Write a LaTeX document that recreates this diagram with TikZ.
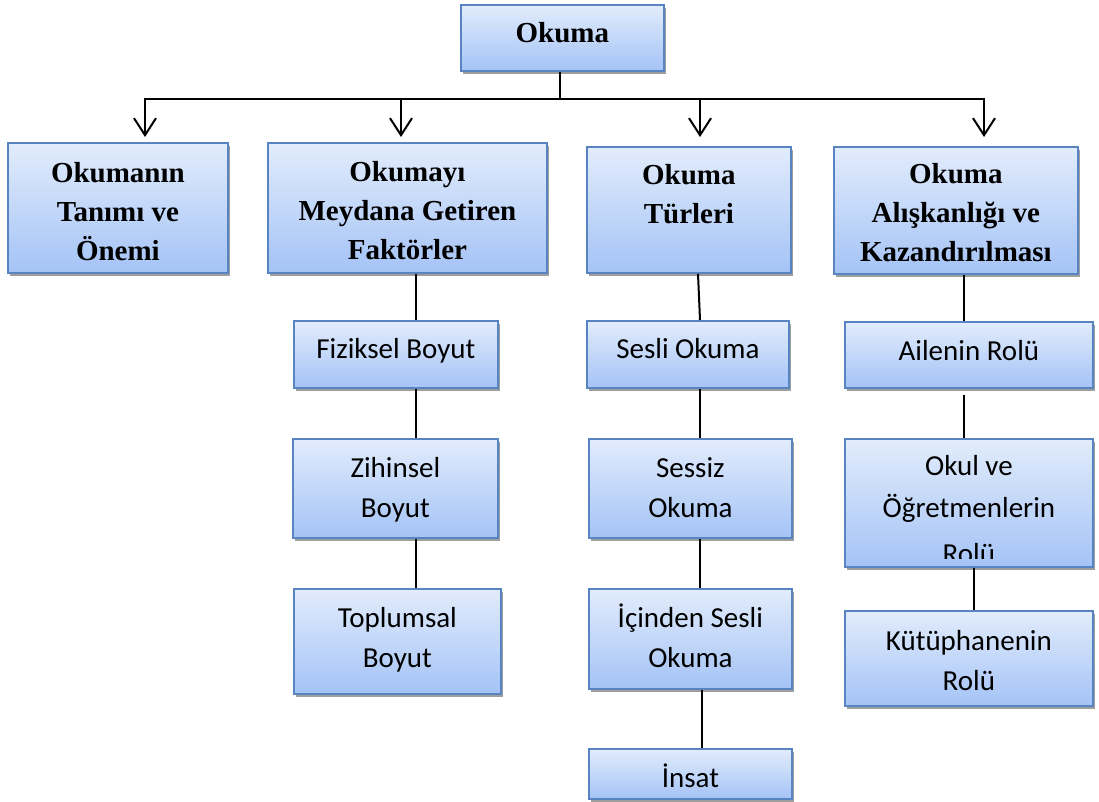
\documentclass[tikz,border=0pt]{standalone}
\usepackage{fontspec}
\setmainfont{Liberation Serif}
\newfontfamily\calibri{Carlito}
\usetikzlibrary{arrows.meta,shadows}
\definecolor{boxtop}{HTML}{E2ECFC}
\definecolor{boxbot}{HTML}{A4C3F6}
\definecolor{boxborder}{HTML}{5884C2}
\definecolor{shadowgray}{HTML}{9E9E9E}
\tikzset{
  box/.style={draw=boxborder, line width=1.8pt, top color=boxtop, bottom color=boxbot,
    inner sep=0pt, anchor=north west,
    drop shadow={shadow xshift=2.5pt, shadow yshift=-3.5pt, fill=shadowgray, opacity=1}},
  htxt/.style={font=\fontsize{29}{39}\selectfont\bfseries, anchor=base, inner sep=0pt},
  ctxt/.style={font=\fontsize{29}{40}\selectfont\calibri, anchor=base, inner sep=0pt},
  conn/.style={line width=2pt},
  arr/.style={line width=2pt, -{Straight Barb[length=17pt,width=22pt]}},
}
\begin{document}
\begin{tikzpicture}[x=1pt,y=-1pt]
\useasboundingbox (0,0) rectangle (1099,801);
% header boxes
\node[box, minimum width=203pt, minimum height=66pt] (okuma) at (460,4) {};
\node[htxt] (okuma-t) at ([yshift=-38pt]okuma.north) {Okuma};
\node[box, minimum width=220pt, minimum height=130pt] (h1) at (7,142) {};
\node[htxt] (h1-t) at ([yshift=-40pt]h1.north) {\begin{tabular}[t]{@{}c@{}}Okumanın\\Tanımı ve\\Önemi\end{tabular}};
\node[box, minimum width=279pt, minimum height=130pt] (h2) at (267,142) {};
\node[htxt] (h2-t) at ([yshift=-39pt]h2.north) {\begin{tabular}[t]{@{}c@{}}Okumayı\\Meydana Getiren\\Faktörler\end{tabular}};
\node[box, minimum width=204pt, minimum height=126pt] (h3) at (586,146) {};
\node[htxt] (h3-t) at ([yshift=-38pt]h3.north) {\begin{tabular}[t]{@{}c@{}}Okuma\\Türleri\end{tabular}};
\node[box, minimum width=244pt, minimum height=127pt] (h4) at (833,146) {};
\node[htxt] (h4-t) at ([yshift=-37pt]h4.north) {\begin{tabular}[t]{@{}c@{}}Okuma\\Alışkanlığı ve\\Kazandırılması\end{tabular}};
% column 2
\node[box, minimum width=204pt, minimum height=67pt] (c21) at (293,320) {};
\node[ctxt] (c21-t) at ([yshift=-38pt]c21.north) {Fiziksel Boyut};
\node[box, minimum width=205pt, minimum height=99pt] (c22) at (292,438) {};
\node[ctxt] (c22-t) at ([yshift=-39pt]c22.north) {\begin{tabular}[t]{@{}c@{}}Zihinsel\\Boyut\end{tabular}};
\node[box, minimum width=207pt, minimum height=105pt] (c23) at (293,588) {};
\node[ctxt] (c23-t) at ([yshift=-39pt]c23.north) {\begin{tabular}[t]{@{}c@{}}Toplumsal\\Boyut\end{tabular}};
% column 3
\node[box, minimum width=202pt, minimum height=67pt] (c31) at (586,320) {};
\node[ctxt] (c31-t) at ([yshift=-38pt]c31.north) {Sesli Okuma};
\node[box, minimum width=203pt, minimum height=99pt] (c32) at (588,438) {};
\node[ctxt] (c32-t) at ([yshift=-39pt]c32.north) {\begin{tabular}[t]{@{}c@{}}Sessiz\\Okuma\end{tabular}};
\node[box, minimum width=203pt, minimum height=100pt] (c33) at (588,588) {};
\node[ctxt] (c33-t) at ([yshift=-39pt]c33.north) {\begin{tabular}[t]{@{}c@{}}İçinden Sesli\\Okuma\end{tabular}};
\node[box, minimum width=203pt, minimum height=50pt] (c34) at (588,748) {};
\node[ctxt] (c34-t) at ([yshift=-39pt]c34.north) {İnsat};
% column 4
\node[box, minimum width=248pt, minimum height=66pt] (c41) at (844,321) {};
\node[ctxt] (c41-t) at ([yshift=-39pt]c41.north) {Ailenin Rolü};
\node[box, minimum width=248pt, minimum height=128pt] (c42) at (844,438) {};
\node[ctxt, font=\fontsize{29}{42}\selectfont\calibri] (c42-t) at ([yshift=-37pt]c42.north) {\begin{tabular}[t]{@{}c@{}}Okul ve\\Öğretmenlerin\end{tabular}};
\begin{scope}
\clip ([yshift=9pt]c42.south west) rectangle ([yshift=-100pt]c42.north east);
\node[ctxt] (c42-r) at ([yshift=-125pt]c42.north) {Rolü};
\end{scope}
\node[box, minimum width=248pt, minimum height=95pt] (c43) at (844,610) {};
\node[ctxt] (c43-t) at ([yshift=-40pt]c43.north) {\begin{tabular}[t]{@{}c@{}}Kütüphanenin\\Rolü\end{tabular}};
% helper coordinates
\coordinate (j) at (560,99);
\coordinate (t1) at (145,137);
\coordinate (t2) at (401,137);
\coordinate (t3) at (700,137);
\coordinate (t4) at (984,137);
\coordinate (x416) at (416,0);
\coordinate (x698) at (698,0);
\coordinate (x700) at (700,0);
\coordinate (x702) at (702,0);
\coordinate (x964) at (964,0);
\coordinate (x974) at (974,0);
% top connectors
\draw[conn] (okuma.south -| j) -- (j);
\draw[arr] (j) -| (t1);
\draw[arr] (j) -| (t2);
\draw[arr] (j) -| (t3);
\draw[arr] (j) -| (t4);
% column connectors
\draw[conn] (h2.south -| x416) -- (c21.north -| x416);
\draw[conn] (c21.south -| x416) -- (c22.north -| x416);
\draw[conn] (c22.south -| x416) -- (c23.north -| x416);
\draw[conn] (h3.south -| x698) -- (c31.north -| x700);
\draw[conn] (c31.south -| x700) -- (c32.north -| x700);
\draw[conn] (c32.south -| x700) -- (c33.north -| x700);
\draw[conn] (c33.south -| x702) -- (c34.north -| x702);
\draw[conn] (h4.south -| x964) -- (c41.north -| x964);
\draw[conn] ([yshift=-6pt]c41.south -| x964) -- (c42.north -| x964);
\draw[conn] (c42.south -| x974) -- (c43.north -| x974);
\end{tikzpicture}
\end{document}
